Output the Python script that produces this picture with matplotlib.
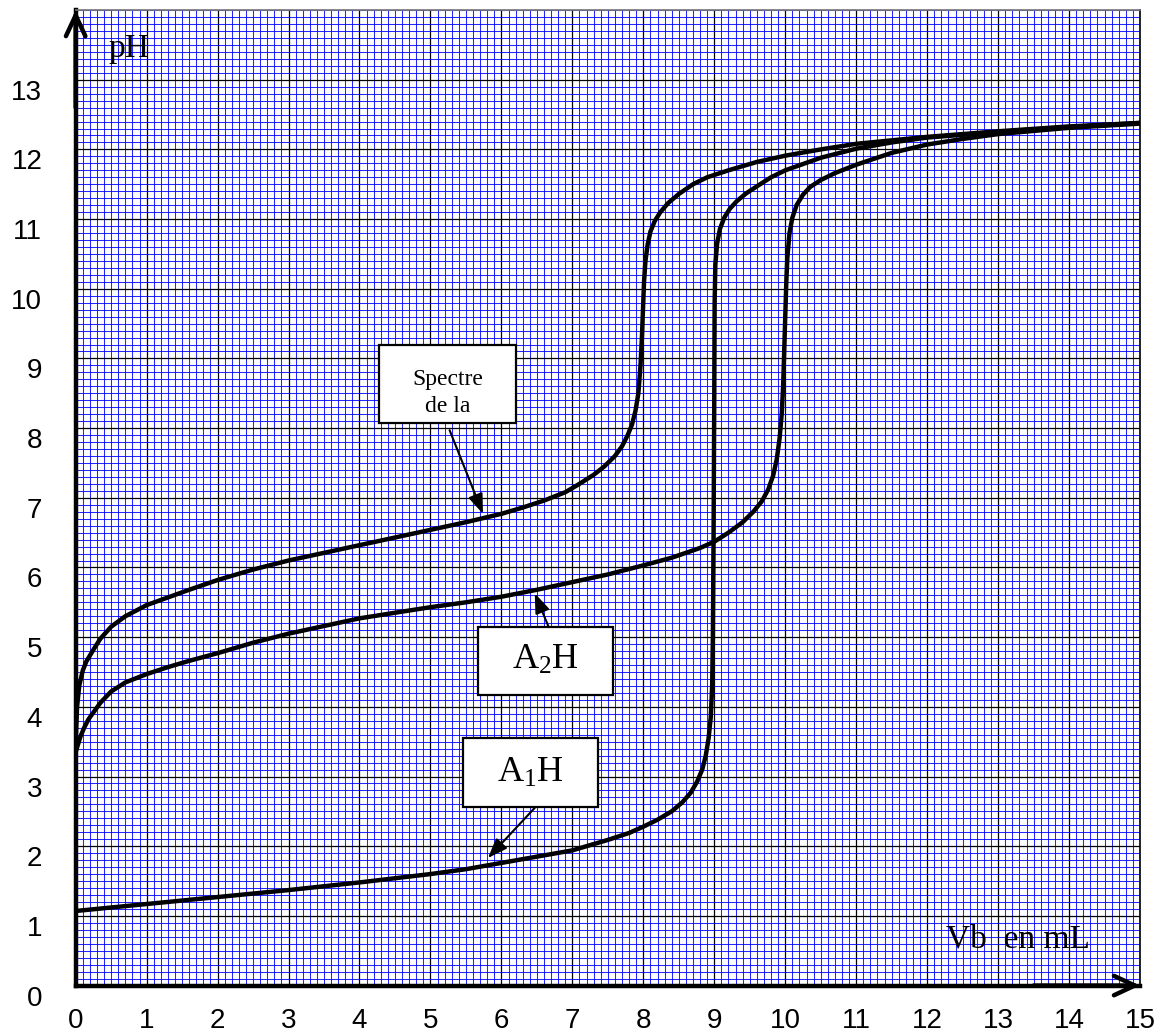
import numpy as np
import matplotlib
matplotlib.use("Agg")
import matplotlib.pyplot as plt
from matplotlib.patches import Rectangle
from matplotlib.transforms import ScaledTranslation

# courbes de titrage pH = f(Vb)
vb_spectre = [0, 0.02, 0.05, 0.1, 0.15, 0.25, 0.35, 0.5, 0.7, 1, 1.3, 1.6, 2, 2.5,
              3, 3.5, 4, 4.5, 5, 5.5, 6, 6.3, 6.6, 6.9, 7.1, 7.3, 7.45, 7.6, 7.7,
              7.78, 7.84, 7.89, 7.93, 7.96, 7.98, 7.995, 8.01, 8.03, 8.06, 8.1,
              8.16, 8.24, 8.35, 8.5, 8.7, 8.9, 9.2, 9.6, 10, 10.5, 11, 11.5, 12,
              13, 14, 15]
ph_spectre = [3.5, 4.0, 4.3, 4.52, 4.65, 4.82, 4.98, 5.15, 5.3, 5.46, 5.57, 5.68,
              5.82, 5.97, 6.1, 6.21, 6.32, 6.43, 6.54, 6.65, 6.77, 6.86, 6.96,
              7.08, 7.2, 7.33, 7.45, 7.6, 7.74, 7.9, 8.05, 8.25, 8.5, 8.9, 9.3,
              9.7, 10.1, 10.4, 10.63, 10.82, 10.97, 11.1, 11.23, 11.36, 11.5, 11.6,
              11.7, 11.82, 11.91, 12.0, 12.08, 12.13, 12.18, 12.26, 12.33, 12.38]

vb_a2h = [0, 0.03, 0.07, 0.12, 0.18, 0.25, 0.35, 0.5, 0.7, 1, 1.3, 1.6, 2, 2.5, 3,
          3.5, 4, 4.5, 5, 5.5, 6, 6.5, 7, 7.5, 8, 8.4, 8.8, 9, 9.2, 9.4, 9.55,
          9.67, 9.76, 9.83, 9.88, 9.92, 9.95, 9.97, 9.985, 10.0, 10.015, 10.03,
          10.06, 10.1, 10.16, 10.25, 10.35, 10.5, 10.7, 11, 11.5, 12, 12.5, 13,
          14, 15]
ph_a2h = [3.35, 3.45, 3.58, 3.7, 3.82, 3.92, 4.06, 4.22, 4.35, 4.47, 4.57, 4.66,
          4.77, 4.92, 5.05, 5.16, 5.27, 5.35, 5.43, 5.5, 5.58, 5.68, 5.79, 5.9,
          6.03, 6.14, 6.28, 6.37, 6.5, 6.65, 6.8, 6.95, 7.12, 7.32, 7.55, 7.85,
          8.2, 8.6, 9.1, 9.6, 10.1, 10.45, 10.8, 11.02, 11.2, 11.35, 11.46,
          11.56, 11.66, 11.78, 11.95, 12.07, 12.15, 12.22, 12.31, 12.37]

vb_a1h = [0, 1, 2, 3, 4, 5, 5.5, 6, 6.5, 7, 7.5, 7.8, 8, 8.2, 8.4, 8.55, 8.67,
          8.76, 8.83, 8.88, 8.92, 8.95, 8.97, 8.98, 8.99, 9.0, 9.005, 9.015, 9.04,
          9.08, 9.14, 9.22, 9.32, 9.45, 9.6, 9.8, 10, 10.5, 11, 11.5, 12, 13,
          14, 15]
ph_a1h = [1.07, 1.17, 1.27, 1.37, 1.48, 1.6, 1.67, 1.76, 1.85, 1.94, 2.09, 2.19,
          2.28, 2.38, 2.5, 2.63, 2.77, 2.93, 3.1, 3.3, 3.55, 3.85, 4.3, 5.0,
          6.5, 8.5, 9.8, 10.35, 10.65, 10.86, 11.02, 11.15, 11.26, 11.37, 11.47,
          11.6, 11.7, 11.88, 12.01, 12.1, 12.17, 12.25, 12.32, 12.38]

x_ticks = list(range(0, 16))
y_ticks = list(range(0, 14))

SERIF = "Liberation Serif"
plt.rcParams["font.family"] = "Liberation Sans"
plt.rcParams["mathtext.fontset"] = "custom"
plt.rcParams["mathtext.rm"] = SERIF
plt.rcParams["mathtext.it"] = SERIF + ":italic"

fig = plt.figure(figsize=(11.73, 10.36), dpi=100)
ax = fig.add_axes([0.0645, 0.0487, 0.9074, 0.9416])
ax.set_xlim(0, 15)
ax.set_ylim(0, 14)

# papier millimétré
ax.set_xticks(x_ticks)
ax.set_yticks(y_ticks)
ax.set_xticks(np.arange(0, 15.01, 0.1), minor=True)
ax.set_yticks(np.arange(0, 14.01, 0.1), minor=True)
ax.grid(which="minor", color="#0000ff", lw=0.75, alpha=0.85)
ax.grid(which="major", color="black", lw=0.9)
ax.set_axisbelow(True)
ax.tick_params(which="both", length=0)
ax.tick_params(axis="x", labelsize=20, pad=16)
ax.tick_params(axis="y", labelsize=20, pad=24)

# décalage des étiquettes de l'axe pH
offset = ScaledTranslation(0, -0.10, fig.dpi_scale_trans)
for lab in ax.get_yticklabels():
    lab.set_transform(lab.get_transform() + offset)

for side in ["left", "bottom"]:
    ax.spines[side].set_linewidth(3.2)
ax.spines["top"].set_color("#777777")
ax.spines["top"].set_linewidth(1.2)
ax.spines["right"].set_linewidth(1.2)

# flèches des axes
arr = dict(arrowstyle="->,head_length=1.5,head_width=0.7", lw=3.2, color="black",
           shrinkA=0, shrinkB=0)
ax.annotate("", xy=(0, 1.0), xytext=(0, 0.9), xycoords="axes fraction",
            arrowprops=arr, annotation_clip=False)
ax.annotate("", xy=(1.0, 0), xytext=(0.9, 0), xycoords="axes fraction",
            arrowprops=arr, annotation_clip=False)

# courbes
for vb, ph in [(vb_spectre, ph_spectre), (vb_a2h, ph_a2h), (vb_a1h, ph_a1h)]:
    ax.plot(vb, ph, color="black", lw=3.2, solid_capstyle="round",
            solid_joinstyle="round", zorder=3)

# étiquettes des axes
ax.text(0.46, 13.45, "pH", family=SERIF, fontsize=24, ha="left", va="center")
ax.text(12.27, 0.54, "Vb  en mL", family=SERIF, fontsize=24, ha="left",
        va="baseline")

# cadres
boxes = [
    ((4.28, 8.07), 1.92, 1.12, "Spectre\nde la", 17, (5.24, 8.5)),
    ((5.67, 4.17), 1.90, 0.98, r"$\mathrm{A_2H}$", 26, (6.62, 4.66)),
    ((5.46, 2.56), 1.90, 0.99, r"$\mathrm{A_1H}$", 26, (6.41, 3.05)),
]
for (x0, y0), w, h, txt, fs, (tx, ty) in boxes:
    ax.add_patch(Rectangle((x0, y0), w, h, facecolor="white", edgecolor="black",
                           lw=1.6, zorder=4))
    ax.text(tx, ty, txt, family=SERIF, fontsize=fs, ha="center", va="center",
            linespacing=1.4, zorder=5)

# flèches vers les courbes
pointer = dict(arrowstyle="-|>,head_length=1.2,head_width=0.45", lw=1.5,
               color="black", shrinkA=0, shrinkB=0)
ax.annotate("", xy=(5.74, 6.77), xytext=(5.27, 7.97), arrowprops=pointer, zorder=5)
ax.annotate("", xy=(6.47, 5.63), xytext=(6.66, 5.16), arrowprops=pointer, zorder=5)
ax.annotate("", xy=(5.81, 1.83), xytext=(6.47, 2.55), arrowprops=pointer, zorder=5)

fig.savefig("out.png", dpi=100)
